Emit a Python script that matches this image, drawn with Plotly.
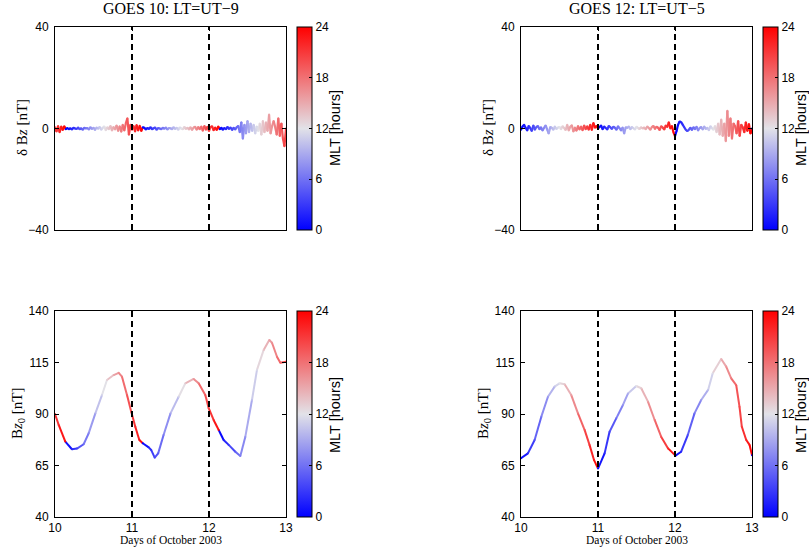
import numpy as np
import plotly.graph_objects as go
from plotly.colors import sample_colorscale

# ---------------- data ----------------
# delta Bz (nT) sampled every 0.02 day from Oct 10.00 to Oct 13.00
dbz_goes10 = [
    0.5, -1.2, 1.0, -1.5, 0.8, -0.6, 0.9, -0.3,
    0.2, -0.3, 0.1, -0.4, 0.3, 0.0, -0.2, 0.4, -0.3, 0.1,
    -0.5, 0.3, 0.0, 0.2, -0.4, 0.5, -0.2, 0.3, -0.6, 0.4,
    -0.1, 0.6, -0.5, 0.3, 0.8, -0.7, 0.5, -0.3, 1.0, -0.8,
    0.6, -0.4, 1.2, -1.0, 0.9, -1.3, 1.5, -0.8,
    2.0, 4.0, -2.5, 1.5, -0.5,
    1.0, -1.2, 1.4, -0.8, 1.1, -1.0, 0.5,
    0.3, -0.4, 0.2, -0.2, 0.5, -0.3, 0.1, 0.4, -0.5, 0.2,
    0.0, -0.3, 0.3, -0.1, 0.4, -0.4, 0.2, 0.1, -0.3, 0.5,
    -0.2, 0.3, -0.5, 0.4, 0.0, -0.3, 0.6, -0.2, 0.3, -0.4,
    0.5, -0.6, 0.4, 0.7, -0.5, 0.6, -0.3,
    0.8, -0.9, 1.0, -0.5, 0.7, -1.0, 0.6, 0.9, -0.7, 0.4, -0.6, 0.8, -0.3,
    0.3, -0.5, 0.2, -0.3, 0.6, -0.2, 0.4, -0.6, 0.3, -0.4, 0.5,
    1.0, -1.5, 2.5, -4.0, 1.5, -2.0, 3.0, -1.5, 2.0, -1.0,
    1.5, -2.0, 0.8, -1.0, 2.0, -2.5, 3.0, -1.5, 2.5, -1.0, 5.5, -2.0, 1.0,
    3.0, 0.5, -2.5, 4.0, -3.0, 2.0, -4.0, -7.0, 0.0,
]
dbz_goes12 = [
    -0.5, 0.8, 1.5, 0.3, -0.8, 1.0, 0.2, -1.0, 1.2, -0.5,
    0.6, 1.0, -0.3, 0.5, -0.8, 0.3, 1.2, -0.4, -2.0, 0.6,
    0.3, -0.5, 0.8, -0.2, 0.4, 0.6, -0.3, 0.9, 0.2, -0.6,
    1.5, -0.8, 0.7, 1.3, -1.2, 0.4, -0.9, 1.0, -0.4, 0.8,
    -0.7, 1.2, -0.3, 0.9, -0.5,
    1.5, -0.6, 2.2, 0.3, 1.0, 0.0,
    0.6, 1.2, -0.3, 0.8, 0.2, -0.4, 1.0, 0.5, -0.2, 0.7,
    0.3, -0.5, 0.9, 0.1, -0.8, 0.4, -2.0, 0.5, 0.2, 0.8,
    -0.3, 0.6, 0.1, -0.4, 0.7, 0.2, -0.2, 0.5, 0.0, 0.4,
    -0.3, 0.8, 0.2, -0.5, 0.6, 1.0, -0.2, 0.7, 0.3, -0.6,
    0.9, 0.4, -0.4, 1.2, 0.6,
    2.5, 0.0, 1.0, -1.5,
    -3.0,
    -1.0, 1.5, 2.8, 2.5, 1.5, 0.5, -0.5, -1.0, -0.5, 0.3,
    -0.6, 0.5, -0.3, 0.7, -0.8, 0.2, 0.6, -0.4, 0.8, -0.2,
    0.3, -0.7, 0.9, 0.1, -0.5, 1.0, -1.5, 2.0, -2.5,
    3.5, -3.0, 2.0, -5.0, 7.0, -3.0, 4.0, -4.0, 2.0, 1.0,
    -2.0, 3.0, -3.0, 1.5, 0.5, -1.5, 2.5, -1.0, 1.8, -2.0, 0.0,
]

# Bz0 (nT) read at the listed times (days of October 2003)
t_bz0_goes10 = [10.0, 10.048, 10.134, 10.22, 10.286, 10.372, 10.437, 10.524, 10.61,
                10.675, 10.762, 10.827, 10.87, 10.935, 10.99, 11.043, 11.095, 11.14,
                11.217, 11.25, 11.295, 11.34, 11.41, 11.5, 11.606, 11.693, 11.80,
                11.866, 11.952, 11.996, 12.06, 12.126, 12.19, 12.256, 12.342, 12.407,
                12.472, 12.558, 12.623, 12.71, 12.783, 12.818, 12.883, 12.926, 13.0]
bz0_goes10 = [90.0, 84.7, 76.6, 72.9, 73.2, 75.3, 80.6, 90.3, 99.2,
              106.5, 108.9, 110.0, 108.1, 99.2, 91.1, 83.8, 77.4, 75.8,
              73.8, 72.5, 68.8, 70.9, 79.8, 90.3, 98.4, 104.9, 107.0,
              104.9, 99.2, 92.8, 87.1, 82.2, 77.4, 75.0, 71.7, 69.6,
              79.0, 96.8, 111.4, 121.1, 125.9, 124.6, 117.8, 114.9, 115.4]

t_bz0_goes12 = [10.0, 10.09, 10.177, 10.264, 10.35, 10.437, 10.50, 10.567, 10.653,
                10.74, 10.827, 10.89, 10.948, 11.0, 11.086, 11.15, 11.237, 11.324,
                11.39, 11.497, 11.562, 11.649, 11.736, 11.82, 11.91, 12.006, 12.08,
                12.166, 12.253, 12.34, 12.43, 12.49, 12.60, 12.665, 12.73, 12.795,
                12.838, 12.868, 12.925, 12.969, 13.0]
bz0_goes12 = [68.5, 70.9, 77.4, 88.7, 98.4, 103.3, 104.9, 104.4, 99.2,
              90.3, 82.2, 75.0, 67.7, 63.5, 70.9, 81.4, 87.9, 94.4,
              100.0, 103.6, 102.5, 96.0, 87.1, 79.0, 73.3, 69.8, 71.7,
              79.8, 90.3, 96.8, 101.7, 109.8, 116.7, 113.0, 107.3, 104.0,
              93.5, 83.8, 77.4, 75.0, 70.0]

# MLT midnight crossing (day fraction)
mlt_midnight_goes10 = 10.14
mlt_midnight_goes12 = 10.0

titles = ["GOES 10: LT=UT\u22129", "GOES 12: LT=UT\u22125"]
x_ticks = [10, 11, 12, 13]
y_ticks_top = [-40, 0, 40]
y_ticks_bottom = [40, 65, 90, 115, 140]
cb_ticks = [0, 6, 12, 18, 24]
day_lines = [11, 12]

# ---------------- styling ----------------
W, H = 809, 551
SANS = "Liberation Sans, Arial, sans-serif"
SERIF = "Liberation Serif, Times New Roman, serif"
CSCALE = [[0.0, "rgb(0,0,255)"], [0.5, "rgb(226,226,232)"], [1.0, "rgb(255,0,0)"]]


def px_x(p):
    return p / W


def px_y(p):
    return 1 - p / H


def mlt_of(t, t0):
    return ((np.asarray(t, dtype=float) - t0) * 24.0) % 24.0


fig = go.Figure()

panels = [
    (1, np.linspace(10, 13, len(dbz_goes10)), dbz_goes10, mlt_midnight_goes10, 2.2),
    (2, np.linspace(10, 13, len(dbz_goes12)), dbz_goes12, mlt_midnight_goes12, 2.2),
    (3, np.array(t_bz0_goes10), bz0_goes10, mlt_midnight_goes10, 2.0),
    (4, np.array(t_bz0_goes12), bz0_goes12, mlt_midnight_goes12, 2.0),
]

for idx, tt, vv, t0, lw in panels:
    xa = "x" if idx == 1 else f"x{idx}"
    ya = "y" if idx == 1 else f"y{idx}"
    ca = "coloraxis" if idx == 1 else f"coloraxis{idx}"
    vv = list(vv)
    for i in range(len(tt) - 1):
        tm = 0.5 * (tt[i] + tt[i + 1])
        c = sample_colorscale(CSCALE, [float(mlt_of(tm, t0)) / 24.0])[0]
        fig.add_trace(go.Scatter(
            x=[tt[i], tt[i + 1]], y=[vv[i], vv[i + 1]], mode="lines",
            line=dict(color=c, width=lw), showlegend=False, hoverinfo="skip",
            xaxis=xa, yaxis=ya))
    fig.add_trace(go.Scatter(
        x=tt, y=vv, mode="markers",
        marker=dict(size=2, color=mlt_of(tt, t0), coloraxis=ca),
        showlegend=False, hoverinfo="skip", xaxis=xa, yaxis=ya))

# axis geometry (pixels)
left_x = (55, 286)
right_x = (521, 752)
top_y = (27, 230)
bot_y = (311, 517)


def xdom(r):
    return [px_x(r[0]), px_x(r[1])]


def ydom(r):
    return [px_y(r[1]), px_y(r[0])]


axis_common = dict(showline=True, linecolor="black", linewidth=1, mirror="allticks",
                   ticks="inside", ticklen=4, tickcolor="black", showgrid=False,
                   zeroline=False, tickfont=dict(family=SANS, size=12, color="black"))

layout = dict(width=W, height=H, margin=dict(l=0, r=0, t=0, b=0, autoexpand=False),
              paper_bgcolor="white", plot_bgcolor="white", showlegend=False)

geo = {1: (left_x, top_y), 2: (right_x, top_y), 3: (left_x, bot_y), 4: (right_x, bot_y)}
for idx, (gx, gy) in geo.items():
    xk = "xaxis" if idx == 1 else f"xaxis{idx}"
    yk = "yaxis" if idx == 1 else f"yaxis{idx}"
    ya = "y" if idx == 1 else f"y{idx}"
    xa = "x" if idx == 1 else f"x{idx}"
    top = idx in (1, 2)
    layout[xk] = dict(axis_common, domain=xdom(gx), range=[10, 13], tickvals=x_ticks,
                      showticklabels=not top, anchor=ya, ticklabelstandoff=0)
    layout[yk] = dict(axis_common, domain=ydom(gy),
                      range=[-40, 40] if top else [40, 140],
                      tickvals=y_ticks_top if top else y_ticks_bottom,
                      anchor=xa, ticklabelstandoff=3)
    ck = "coloraxis" if idx == 1 else f"coloraxis{idx}"
    cbx = 297 if gx == left_x else 763
    layout[ck] = dict(
        colorscale=CSCALE, cmin=0, cmax=24,
        colorbar=dict(
            x=px_x(cbx), xanchor="left", xpad=0, ypad=0,
            y=px_y(gy[1]), yanchor="bottom", len=(gy[1] - gy[0]) / H, lenmode="fraction",
            thickness=15, thicknessmode="pixels",
            outlinewidth=1, outlinecolor="black",
            tickvals=cb_ticks, ticks="inside", ticklen=3, tickcolor="black",
            tickfont=dict(family=SANS, size=12, color="black"),
        ))

fig.update_layout(**layout)

# dashed day boundaries
for idx in (1, 2, 3, 4):
    xa = "x" if idx == 1 else f"x{idx}"
    ya = "y" if idx == 1 else f"y{idx}"
    for d in day_lines:
        fig.add_shape(type="line", xref=xa, yref=f"{ya} domain", x0=d, x1=d, y0=0, y1=1,
                      line=dict(color="black", width=2, dash="6px,4px"))

ann = []
for i, gx in enumerate((left_x, right_x)):
    cx = 0.5 * (gx[0] + gx[1])
    ann.append(dict(text=titles[i], x=px_x(cx), y=px_y(9), xref="paper", yref="paper",
                    xanchor="center", yanchor="middle", showarrow=False,
                    font=dict(family=SERIF, size=16, color="black")))
    ann.append(dict(text="Days of October 2003", x=px_x(cx), y=px_y(540), xref="paper",
                    yref="paper", xanchor="center", yanchor="middle", showarrow=False,
                    font=dict(family=SERIF, size=11.5, color="black")))
for x, y, txt in [(22, 128, "\u03b4 B<i>z</i> [nT]"), (488, 128, "\u03b4 B<i>z</i> [nT]"),
                  (18, 413, "B<i>z</i><sub>0</sub> [nT]"), (484, 413, "B<i>z</i><sub>0</sub> [nT]")]:
    ann.append(dict(text=txt, x=px_x(x), y=px_y(y), xref="paper", yref="paper",
                    xanchor="center", yanchor="middle", showarrow=False, textangle=-90,
                    font=dict(family=SERIF, size=15, color="black")))
# colour-bar labels
for x, y in [(335, 128), (801, 128), (335, 415), (801, 415)]:
    ann.append(dict(text="MLT [hours]", x=px_x(x), y=px_y(y), xref="paper", yref="paper",
                    xanchor="center", yanchor="middle", showarrow=False, textangle=-90,
                    font=dict(family=SANS, size=14.5, color="black")))
fig.update_layout(annotations=ann)

fig.write_html("out.html")
